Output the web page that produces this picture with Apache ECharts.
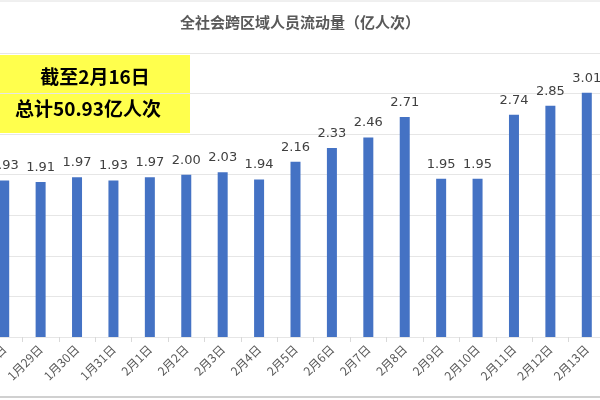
<!DOCTYPE html><html><head><meta charset="utf-8"><script src="https://cdn.jsdelivr.net/npm/echarts@6/dist/echarts.min.js"></script></head><body style="margin:0"><div id="c" style="width:600px;height:400px"></div><script>
const categories=['1月28日','1月29日','1月30日','1月31日','2月1日','2月2日','2月3日','2月4日','2月5日','2月6日','2月7日','2月8日','2月9日','2月10日','2月11日','2月12日','2月13日'];
const values=[1.93,1.91,1.97,1.93,1.97,2.00,2.03,1.94,2.16,2.33,2.46,2.71,1.95,1.95,2.74,2.85,3.01];
const c=echarts.init(document.getElementById('c'));
c.setOption({animation:false,
title:{text:'全社会跨区域人员流动量（亿人次）',left:'center',top:10,textStyle:{fontFamily:'Noto Sans CJK SC',fontSize:15,fontWeight:'bold',color:'#595959'}},
grid:{left:-14,right:-5,top:53,bottom:63,containLabel:false,outerBoundsMode:'none'},
xAxis:{type:'category',data:categories,axisLine:{show:false},axisTick:{show:true,lineStyle:{color:'#d9d9d9'},length:5},axisLabel:{rotate:45,fontSize:12,color:'#595959',margin:10,fontFamily:'Noto Sans CJK SC'}},
yAxis:{type:'value',min:0,max:3.5,interval:0.5,axisLabel:{show:false},splitLine:{lineStyle:{color:'#e6e6e6'}}},
series:[{type:'bar',data:values,barWidth:10,itemStyle:{color:'#4472c4'},label:{show:true,position:'top',fontSize:13,color:'#404040',fontFamily:'DejaVu Sans',formatter:p=>p.value.toFixed(2),distance:8}}],
graphic:[{type:'rect',shape:{x:0,y:55,width:190,height:78},style:{fill:'#ffff4d'}},
{type:'text',style:{x:95,y:77,text:'截至2月16日',textAlign:'center',textVerticalAlign:'middle',font:'bold 19px "Noto Sans CJK SC"',fill:'#000'}},
{type:'text',style:{x:88,y:109,text:'总计50.93亿人次',textAlign:'center',textVerticalAlign:'middle',font:'bold 19px "Noto Sans CJK SC"',fill:'#000'}},
{type:'line',shape:{x1:0,y1:397,x2:600,y2:397},style:{stroke:'#d0d0d0',lineWidth:2}},
{type:'line',shape:{x1:0,y1:1,x2:600,y2:1},style:{stroke:'#e0e0e0',lineWidth:1}}]
});
</script></body></html>
